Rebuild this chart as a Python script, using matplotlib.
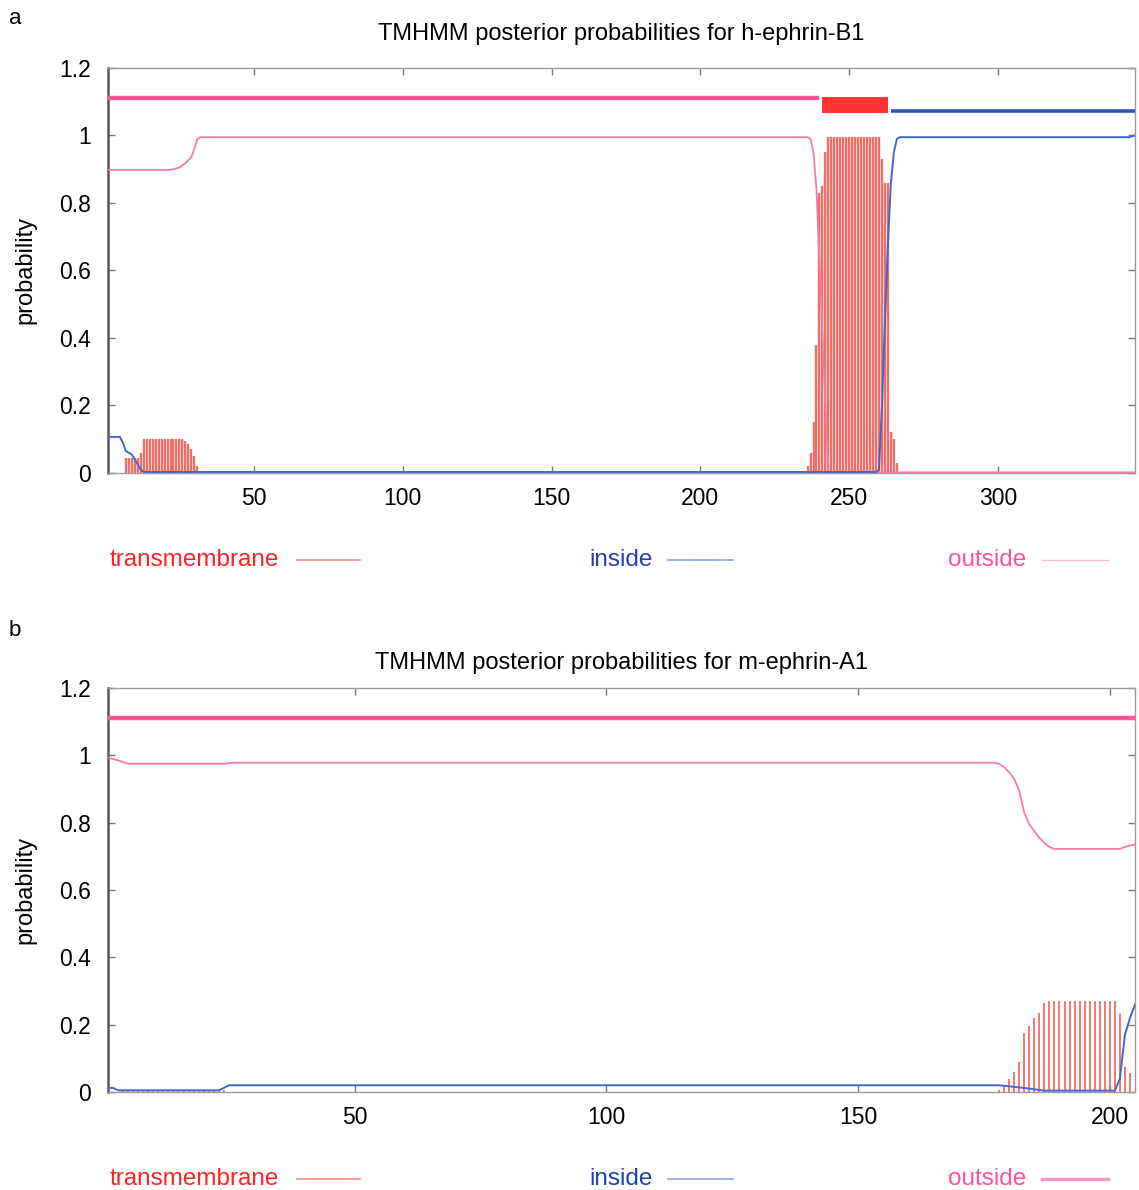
import matplotlib
matplotlib.use("Agg")
import matplotlib.pyplot as plt
from matplotlib.patches import Rectangle

plt.rcParams['font.family'] = ['Liberation Sans', 'DejaVu Sans']

# ---------------- data: panel a (h-ephrin-B1, 346 residues) ----------------
b1_len = 346
b1_xticks = [50, 100, 150, 200, 250, 300]

b1_out_x = [1, 22, 25, 27, 29, 30, 31, 32, 236, 237, 238, 239, 240, 241, 242, 243, 346]
b1_out_y = [0.898, 0.898, 0.905, 0.918, 0.936, 0.96, 0.99, 0.995, 0.995, 0.99, 0.95, 0.84,
            0.63, 0.41, 0.20, 0.002, 0.002]

b1_in_x = [1, 5, 6, 7, 8, 9, 10, 11, 12, 13, 259, 260, 261, 262, 263, 264, 265, 266, 267, 344, 346]
b1_in_y = [0.107, 0.107, 0.09, 0.065, 0.06, 0.055, 0.04, 0.025, 0.01, 0.003, 0.003, 0.01,
           0.2, 0.45, 0.68, 0.86, 0.95, 0.99, 0.995, 0.995, 1.0]

b1_tm_res = list(range(7, 32)) + list(range(236, 267))
b1_tm_val = ([0.045, 0.045, 0.045, 0.045, 0.045, 0.06,
              0.1, 0.1, 0.1, 0.1, 0.1, 0.1, 0.1, 0.1, 0.1, 0.1, 0.1, 0.1, 0.1, 0.1,
              0.095, 0.085, 0.07, 0.05, 0.02]
             + [0.02, 0.06, 0.15, 0.38, 0.83, 0.85, 0.95,
                0.995, 0.995, 0.995, 0.995, 0.995, 0.995, 0.995, 0.995, 0.995,
                0.995, 0.995, 0.995, 0.995, 0.995, 0.995, 0.995, 0.995, 0.995,
                0.93, 0.86, 0.86, 0.12, 0.10, 0.03])

# topology bar: (start, end, kind)
b1_topo = [(1, 240, 'outside'), (241, 263, 'tm'), (264, 346, 'inside')]

# ---------------- data: panel b (m-ephrin-A1, 205 residues) ----------------
a1_len = 205
a1_xticks = [50, 100, 150, 200]

a1_out_x = [1, 3, 5, 24, 26, 177, 178, 179, 180, 181, 182, 183, 184, 185, 186, 187, 188, 189,
            202, 203, 204, 205]
a1_out_y = [0.993, 0.985, 0.975, 0.975, 0.978, 0.978, 0.975, 0.965, 0.95, 0.93, 0.895, 0.83,
            0.795, 0.775, 0.755, 0.74, 0.728, 0.722, 0.722, 0.728, 0.732, 0.735]

a1_in_x = [1, 2, 3, 23, 24, 25, 178, 180, 183, 186, 187, 201, 202, 203, 204, 205]
a1_in_y = [0.012, 0.012, 0.005, 0.005, 0.012, 0.02, 0.02, 0.017, 0.012, 0.006, 0.004, 0.004,
           0.04, 0.17, 0.22, 0.26]

a1_tm_res = list(range(4, 25)) + list(range(178, 206))
a1_tm_val = ([0.006] * 21
             + [0.005, 0.02, 0.04, 0.06, 0.09, 0.175, 0.195, 0.22, 0.235, 0.265,
                0.27, 0.27, 0.27, 0.27, 0.27, 0.27, 0.27, 0.27, 0.27, 0.27, 0.27, 0.27, 0.27, 0.27,
                0.235, 0.075, 0.055, 0.0])

a1_topo = [(1, 205, 'outside')]

y_ticks = [0, 0.2, 0.4, 0.6, 0.8, 1.0, 1.2]
y_labels = ['0', '0.2', '0.4', '0.6', '0.8', '1', '1.2']

# ---------------- styles ----------------
C_TM = '#f26d66'
C_IN = '#4466cc'
C_OUT = '#f57aa8'
C_TOPO_OUT = '#ff5599'
C_TOPO_IN = '#2f55c0'
C_TOPO_TM = '#ff3535'

fig = plt.figure(figsize=(11.39, 11.90), dpi=100)


def panel(rect, length, xticks, out_x, out_y, in_x, in_y, tm_res, tm_val, topo,
          title, title_pad, tm_lw, leg_y, out_leg_style):
    ax = fig.add_axes(rect)
    ax.set_xlim(1, length)
    ax.set_ylim(0, 1.2)
    ax.vlines(tm_res, 0, tm_val, colors=C_TM, linewidth=tm_lw, zorder=2)
    ax.plot(out_x, out_y, color=C_OUT, lw=1.3, zorder=3)
    ax.plot(in_x, in_y, color=C_IN, lw=1.4, zorder=4)
    for s, e, kind in topo:
        if kind == 'outside':
            ax.plot([s, e], [1.11, 1.11], color=C_TOPO_OUT, lw=3.2, solid_capstyle='butt', zorder=5)
        elif kind == 'inside':
            ax.plot([s, e], [1.072, 1.072], color=C_TOPO_IN, lw=2.6, solid_capstyle='butt', zorder=5)
        else:
            ax.add_patch(Rectangle((s, 1.068), e - s, 0.046, facecolor=C_TOPO_TM,
                                   edgecolor='none', zorder=5))
    ax.set_xticks(xticks)
    ax.set_xticklabels([str(t) for t in xticks])
    ax.set_yticks(y_ticks)
    ax.set_yticklabels(y_labels)
    ax.tick_params(direction='in', length=5, width=1, color='#777777',
                   top=True, right=True, labelsize=16.5)
    ax.tick_params(axis='y', pad=12.5)
    ax.tick_params(axis='x', pad=10)
    for side in ['top', 'right', 'bottom']:
        ax.spines[side].set_color('#9a9a9a')
        ax.spines[side].set_linewidth(1.0)
    ax.spines['left'].set_color('#555555')
    ax.spines['left'].set_linewidth(1.8)
    ax.set_title(title, fontsize=17, pad=title_pad)
    # legend as figure text
    fig.text(110 / 1139, leg_y, 'transmembrane', color='#ff2222', fontsize=17.5,
             va='center', ha='left')
    fig.add_artist(plt.Line2D([297 / 1139, 360 / 1139], [leg_y, leg_y],
                              color='#f28a8a', lw=1.2, transform=fig.transFigure))
    fig.text(589 / 1139, leg_y, 'inside', color='#1e40b0', fontsize=17.5,
             va='center', ha='left')
    fig.add_artist(plt.Line2D([668 / 1139, 733 / 1139], [leg_y, leg_y],
                              color='#8fa0dd', lw=1.2, transform=fig.transFigure))
    fig.text(948 / 1139, leg_y, 'outside', color='#ff4f9f', fontsize=17.5,
             va='center', ha='left')
    fig.add_artist(plt.Line2D([1042 / 1139, 1108 / 1139], [leg_y, leg_y],
                              color=out_leg_style[0], lw=out_leg_style[1],
                              transform=fig.transFigure))
    return ax


W, H = 1139, 1190
axa = panel([108 / W, 1 - 473 / H, 1027 / W, 405 / H], b1_len, b1_xticks,
            b1_out_x, b1_out_y, b1_in_x, b1_in_y, b1_tm_res, b1_tm_val, b1_topo,
            'TMHMM posterior probabilities for h-ephrin-B1', 20, 1.7, 1 - 560 / H,
            ('#f7bfd2', 1.0))
axb = panel([108 / W, 1 - 1092 / H, 1027 / W, 404 / H], a1_len, a1_xticks,
            a1_out_x, a1_out_y, a1_in_x, a1_in_y, a1_tm_res, a1_tm_val, a1_topo,
            'TMHMM posterior probabilities for m-ephrin-A1', 14, 1.3, 1 - 1179 / H,
            ('#f39ac0', 2.5))

fig.text(25 / W, 1 - 270 / H, 'probability', rotation=90, fontsize=17,
         ha='center', va='center')
fig.text(25 / W, 1 - 890 / H, 'probability', rotation=90, fontsize=17,
         ha='center', va='center')
fig.text(9 / W, 1 - 18 / H, 'a', fontsize=16, ha='left', va='center')
fig.text(9 / W, 1 - 630 / H, 'b', fontsize=16, ha='left', va='center')

fig.savefig('out.png', dpi=100)
